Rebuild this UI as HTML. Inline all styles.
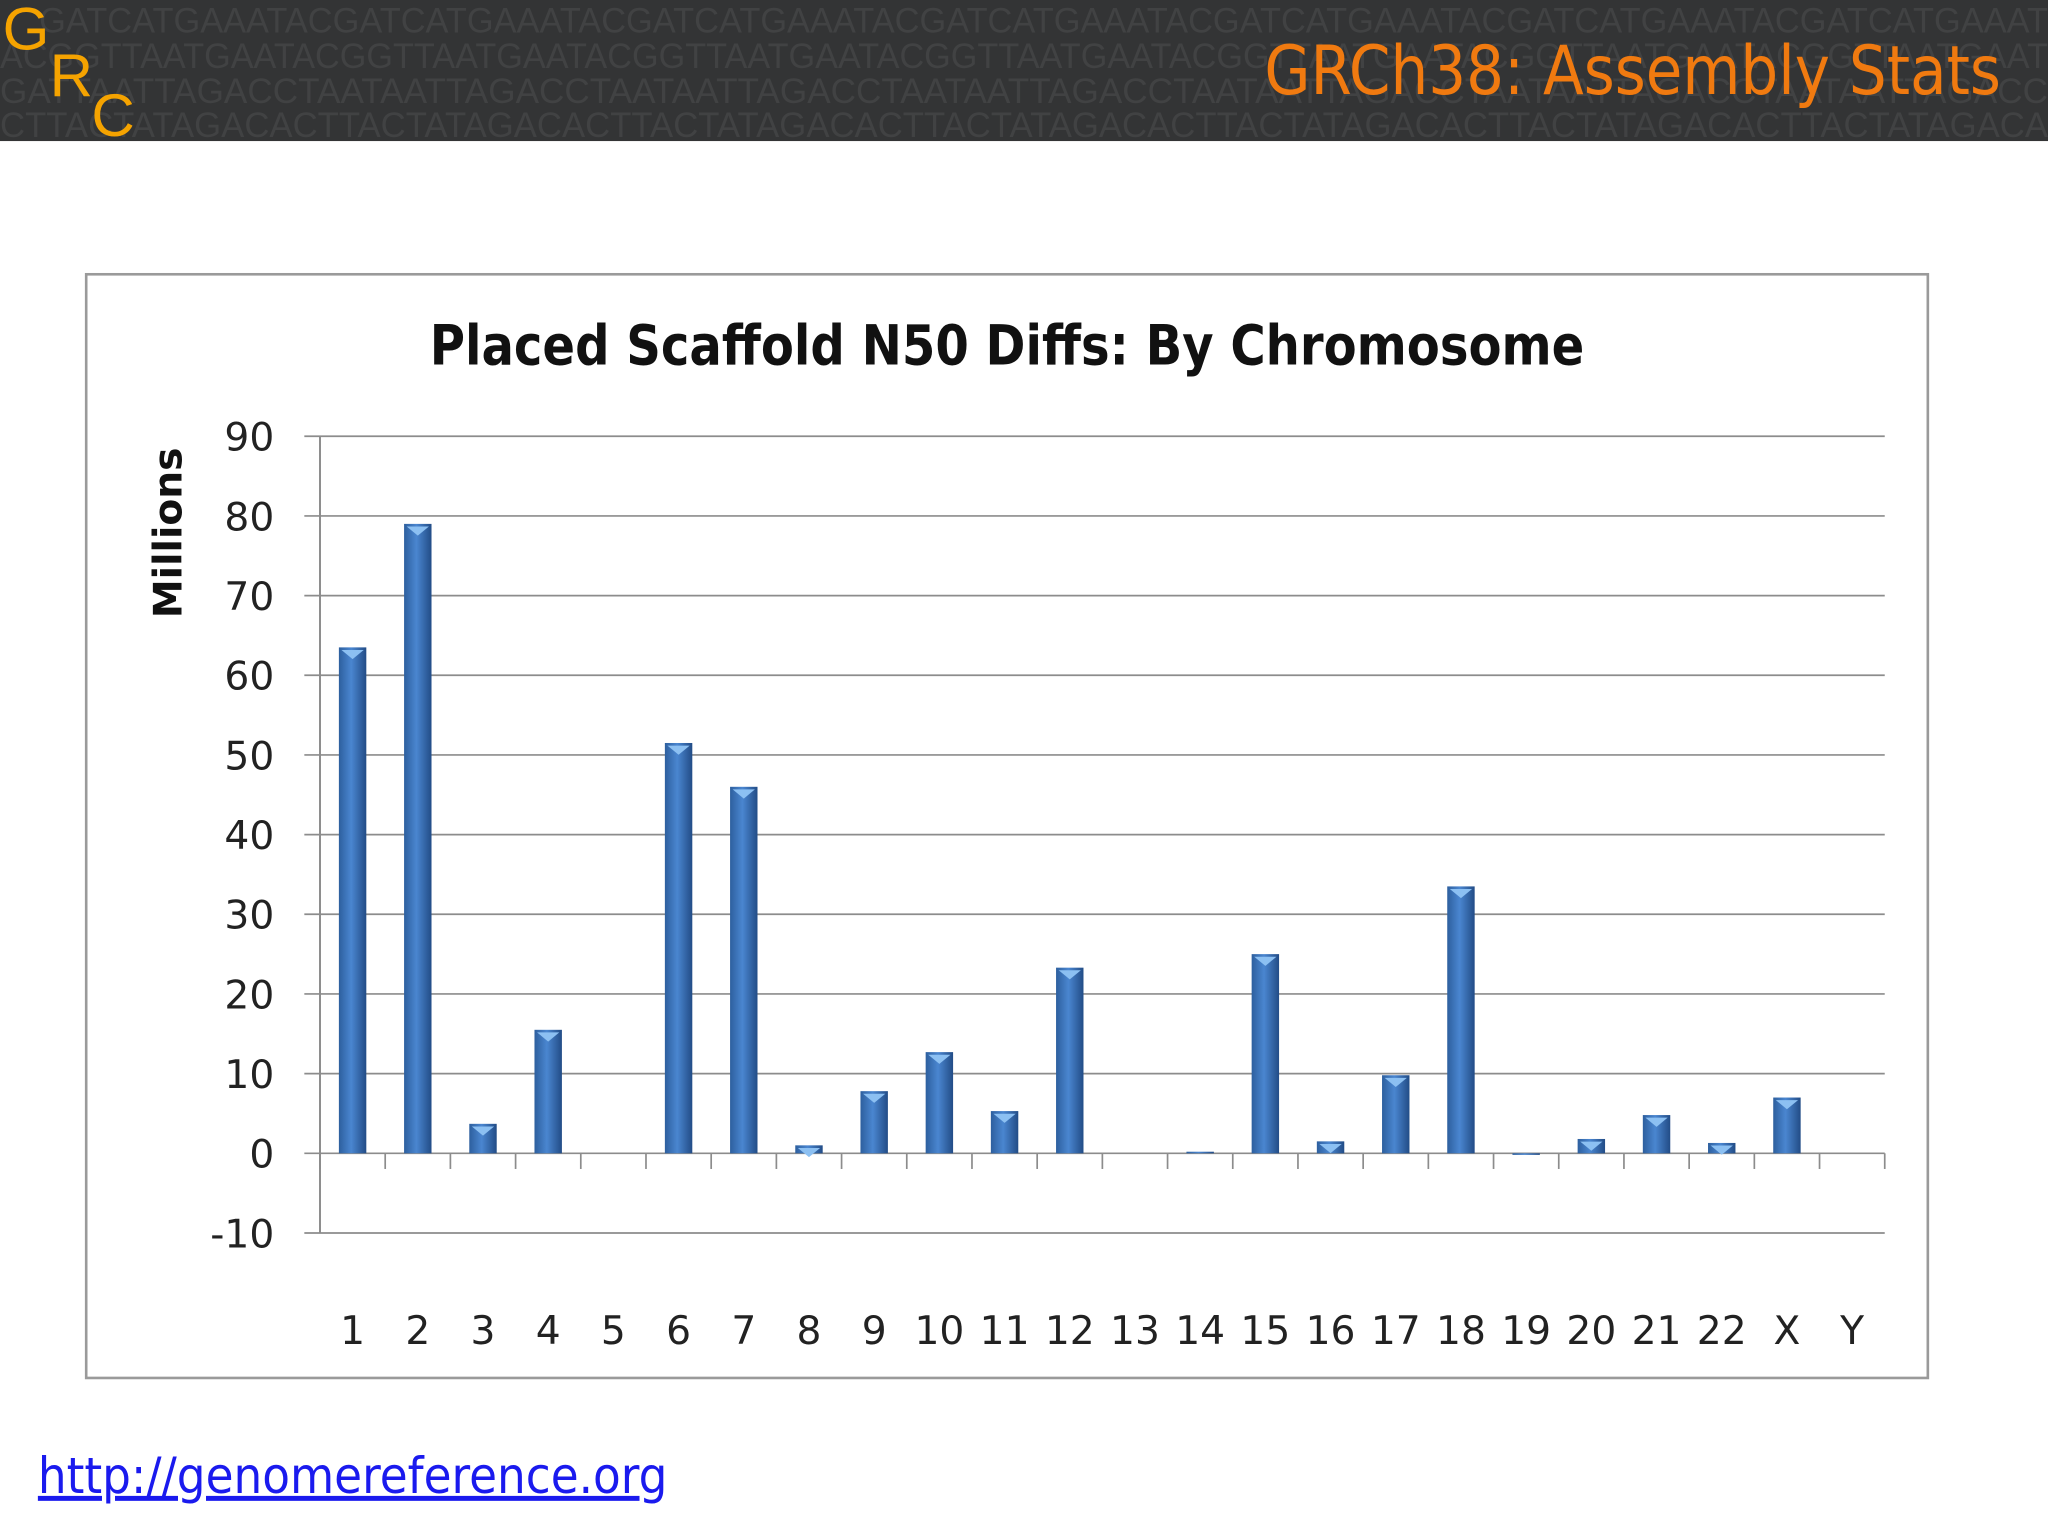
<!DOCTYPE html>
<html><head><meta charset="utf-8"><style>
html,body{margin:0;padding:0;background:#fff;}
svg{display:block;}
</style></head><body>
<svg width="2048" height="1536" viewBox="0 0 1568 1176" xmlns="http://www.w3.org/2000/svg" font-family="Liberation Sans, sans-serif">
<defs>
<linearGradient id="barg" x1="0" x2="1" y1="0" y2="0">
<stop offset="0" stop-color="#2d5f9e"/><stop offset="0.45" stop-color="#4a86d0"/><stop offset="1" stop-color="#224c86"/>
</linearGradient>
</defs>
<g>
<rect x="0" y="0" width="1568" height="108" fill="#333435"/>
<g fill="#414243" font-size="27" font-family="Liberation Sans Narrow, sans-serif">
<text x="30" y="25" textLength="1538" lengthAdjust="spacingAndGlyphs">GATCATGAAATACGATCATGAAATACGATCATGAAATACGATCATGAAATACGATCATGAAATACGATCATGAAATACGATCATGAAAT</text>
<text x="0" y="52" textLength="1568" lengthAdjust="spacingAndGlyphs">ACGGTTAATGAATACGGTTAATGAATACGGTTAATGAATACGGTTAATGAATACGGTTAATGAATACGGTTAATGAATACGGTTAATGAAT</text>
<text x="0" y="79" textLength="1568" lengthAdjust="spacingAndGlyphs">GATTAATTAGACCTAATAATTAGACCTAATAATTAGACCTAATAATTAGACCTAATAATTAGACCTAATAATTAGACCTAATAATTAGACC</text>
<text x="0" y="105" textLength="1568" lengthAdjust="spacingAndGlyphs">CTTACTATAGACACTTACTATAGACACTTACTATAGACACTTACTATAGACACTTACTATAGACACTTACTATAGACACTTACTATAGACA</text>
</g>
<g fill="#f5a300" font-size="46" font-family="Liberation Sans Narrow, sans-serif">
<text x="2" y="38">G</text><text x="38" y="74">R</text><text x="70" y="104">C</text>
</g>
<text x="968" y="72" textLength="564" lengthAdjust="spacingAndGlyphs" font-size="52" fill="#f07a10" font-family="DejaVu Sans, sans-serif">GRCh38: Assembly Stats</text>
</g>
<rect x="66" y="210" width="1410" height="845" fill="#fff" stroke="#9a9a9a" stroke-width="2"/>
<text x="329" y="279" textLength="884" lengthAdjust="spacingAndGlyphs" font-size="42" font-weight="bold" fill="#111" font-family="DejaVu Sans, sans-serif">Placed Scaffold N50 Diffs: By Chromosome</text>
<text transform="translate(139,408) rotate(-90)" text-anchor="middle" font-size="30" font-weight="bold" fill="#111" font-family="DejaVu Sans, sans-serif">Millions</text>
<g id="grid"></g>
<g id="bars"></g>
<g id="axes"></g>
<text x="29" y="1143" textLength="482" lengthAdjust="spacingAndGlyphs" font-size="38" fill="#1a1aee" text-decoration="underline" font-family="DejaVu Sans, sans-serif">http://genomereference.org</text>
</svg>
<script>
const categories=["1","2","3","4","5","6","7","8","9","10","11","12","13","14","15","16","17","18","19","20","21","22","X","Y"];
const values=[63.5,79,3.7,15.5,0,51.5,46,1,7.8,12.7,5.3,23.3,0,0.2,25,1.5,9.8,33.5,-0.2,1.8,4.8,1.3,7,0];
const yTicks=[90,80,70,60,50,40,30,20,10,0,-10];
const NS="http://www.w3.org/2000/svg";
const x0=245,x1=1443,yTop=334,yBot=944,vMax=90,vMin=-10;
const y=v=>yTop+(vMax-v)/(vMax-vMin)*(yBot-yTop);
const bw=(x1-x0)/categories.length;
const xc=i=>x0+bw*(i+0.5);
function mk(tag,attrs,parent){const e=document.createElementNS(NS,tag);for(const k in attrs)e.setAttribute(k,attrs[k]);parent.appendChild(e);return e;}
const grid=document.getElementById('grid'),bars=document.getElementById('bars'),axes=document.getElementById('axes');
yTicks.forEach(t=>{
 const l=mk('line',{x1:233,x2:x1,y1:y(t),y2:y(t),stroke:'#8c8c8c','stroke-width':1.3},grid);
 
 
 const tx=mk('text',{x:210,y:y(t)+11,'text-anchor':'end','font-size':30,fill:'#222','font-family':'DejaVu Sans, sans-serif'},axes);
 tx.textContent=t;
 
 
});
const ya=mk('line',{x1:x0,x2:x0,y1:yTop,y2:yBot,stroke:'#8c8c8c','stroke-width':1.5},axes);


for(let i=0;i<=categories.length;i++){
 const t=mk('line',{x1:x0+bw*i,x2:x0+bw*i,y1:y(0),y2:y(0)+12,stroke:'#8c8c8c','stroke-width':1.3},axes);
 
 
}
categories.forEach((c,i)=>{
 const v=values[i];const w=21;
 const top=Math.min(y(v),y(0)),h=Math.abs(y(v)-y(0));
 if(h>0.5){
  const r=mk('rect',{x:xc(i)-w/2,y:top,width:w,height:h,fill:'url(#barg)'},bars);
  
  
  if(h>6){const p=mk('polygon',{points:`${xc(i)-w/2+2},${top+2} ${xc(i)+w/2-2},${top+2} ${xc(i)},${top+9}`,fill:'#8cc0f2'},bars);
  
  }
 }
 const tx=mk('text',{x:xc(i),y:1029,'text-anchor':'middle','font-size':30,fill:'#222','font-family':'DejaVu Sans, sans-serif'},axes);
 tx.textContent=c;
 
 
});
</script>
</body></html>
